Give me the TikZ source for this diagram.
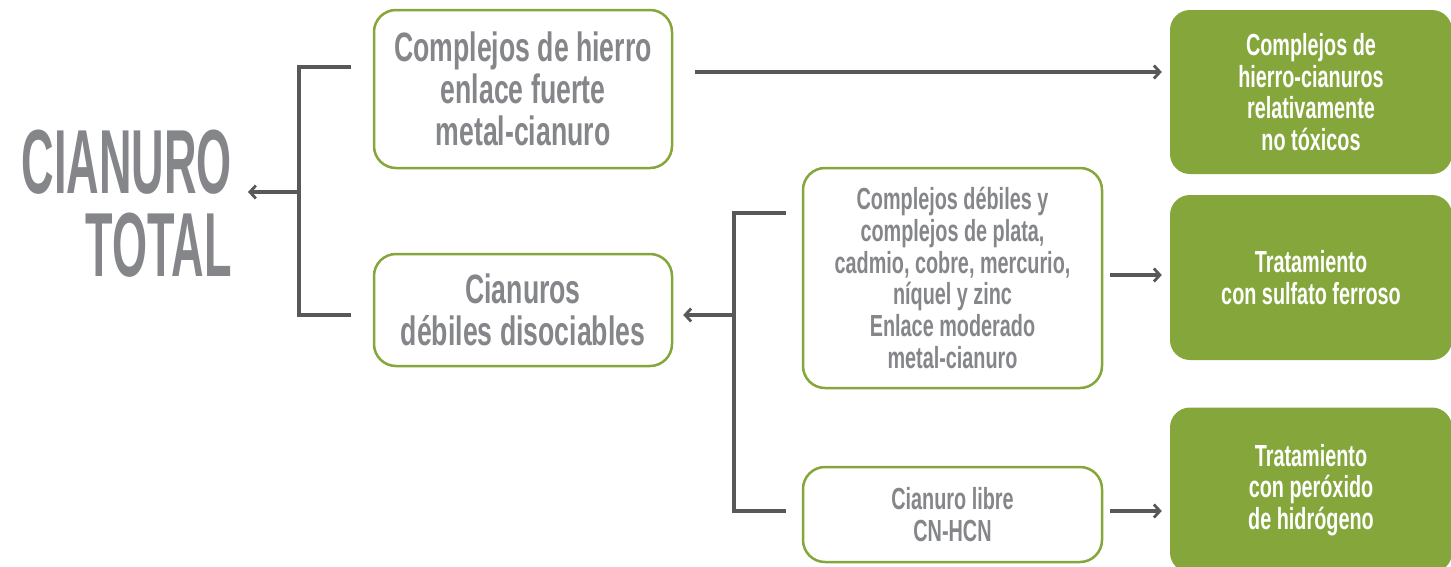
\documentclass[tikz,border=0pt]{standalone}
\usepackage{fontspec}
\setmainfont{Liberation Sans}[FakeStretch=0.65]
\newfontfamily\titlefont{Liberation Sans}[FakeStretch=0.495]
\usetikzlibrary{arrows.meta}
\definecolor{txtgray}{HTML}{85868A}
\definecolor{lgreen}{HTML}{84A63B}
\definecolor{conngray}{HTML}{58585A}
\begin{document}
\begin{tikzpicture}[x=1pt,y=-1pt,
  wbox/.style={draw=lgreen,line width=2.5pt,fill=white,rounded corners=22pt,
    text=txtgray,align=center,inner sep=0pt},
  gbox/.style={fill=lgreen,rounded corners=20pt,text=white,align=center,inner sep=0pt,
    font=\bfseries\fontsize{30.5}{31.8}\selectfont},
  bigtxt/.style={font=\bfseries\fontsize{41}{42}\selectfont},
  smtxt/.style={font=\bfseries\fontsize{30.5}{31.7}\selectfont},
  conn/.style={draw=conngray,line width=3.2pt},
  arr/.style={conn,-{Straight Barb[length=6pt,width=13pt,line width=2.8pt]}}]
\useasboundingbox (0,0) rectangle (1451,566);
\clip (0,0) rectangle (1451,566);
% title
\node[anchor=south east,inner sep=0pt,text=txtgray,align=right,
  font=\titlefont\bfseries\fontsize{91}{83}\selectfont] (title) at (232,278) {CIANURO\\TOTAL};
% boxes
\node[wbox,bigtxt,minimum width=298pt,minimum height=158pt] (A) at (523,89)
  {Complejos de hierro\\enlace fuerte\\metal-cianuro};
\node[wbox,bigtxt,minimum width=298pt,minimum height=112pt] (B) at (523,310)
  {Cianuros\\débiles disociables};
\node[wbox,smtxt,minimum width=299pt,minimum height=220pt] (C) at (952.5,278)
  {Complejos débiles y\\complejos de plata,\\cadmio, cobre, mercurio,\\níquel y zinc\\Enlace moderado\\metal-cianuro};
\node[wbox,smtxt,minimum width=299pt,minimum height=95pt] (D) at (952.5,514.5)
  {Cianuro libre\\CN-HCN};
\node[gbox,minimum width=282pt,minimum height=164pt] (E) at (1311,92)
  {Complejos de\\hierro-cianuros\\relativamente\\no tóxicos};
\node[gbox,minimum width=282pt,minimum height=165pt] (F) at (1311,277.5)
  {Tratamiento\\con sulfato ferroso};
\node[gbox,minimum width=282pt,minimum height=165pt] (G) at (1311,490)
  {Tratamiento\\con peróxido\\de hidrógeno};
% bracket 1
\coordinate (j1) at (299,192);
\coordinate (t1) at (248,192);
\draw[conn] ([xshift=-22pt,yshift=22pt]A.west) -| (j1) |- ([xshift=-22pt,yshift=-5pt]B.west);
\draw[arr] (j1) -- (t1);
% bracket 2
\coordinate (j2) at (734,315);
\draw[conn] ([xshift=-16pt,yshift=65pt]C.west) -| (j2) |- ([xshift=-16pt,yshift=3.5pt]D.west);
\draw[arr] (j2) -- ([xshift=10pt,yshift=-5pt]B.east);
% arrows to green
\draw[arr] ([xshift=22pt,yshift=17pt]A.east) -- ([xshift=-8pt,yshift=20pt]E.west);
\draw[arr] ([xshift=7pt,yshift=3pt]C.east) -- ([xshift=-8pt,yshift=2.5pt]F.west);
\draw[arr] ([xshift=7pt,yshift=3.5pt]D.east) -- ([xshift=-8pt,yshift=-21pt]G.west);
\end{tikzpicture}
\end{document}
